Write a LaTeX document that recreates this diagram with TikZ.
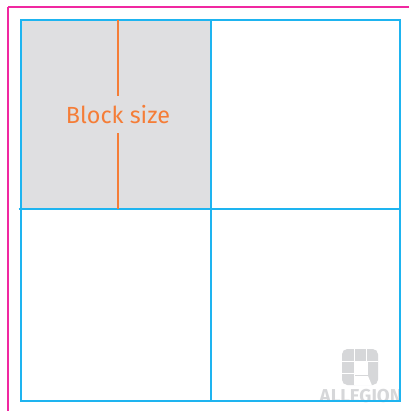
\documentclass[tikz,border=0pt]{standalone}
\usepackage{fontspec}
\setmainfont{Fira Sans}
\definecolor{gridblue}{RGB}{30,180,240}
\definecolor{framepink}{RGB}{240,40,160}
\definecolor{blockorange}{RGB}{245,125,55}
\definecolor{blockgray}{RGB}{223,223,225}
\definecolor{markgray}{RGB}{214,215,217}
\tikzset{gridline/.style={draw=gridblue,line width=2*0.75pt},
	sizeline/.style={draw=blockorange,line width=2*0.75pt},
	frameline/.style={draw=framepink,line width=2*0.75pt}}
\begin{document}
\begin{tikzpicture}[x=0.75pt,y=-0.75pt]
	\useasboundingbox (0,0) rectangle (409,411);
	\fill[white] (0,0) rectangle (409,411);
	\coordinate (topmid) at (118,20);
	\coordinate (botmid) at (118,209);
	\fill[blockgray] (21,20) rectangle (210.5,209);
	% pink frame runs off the page
	\draw[frameline] (8,6.5) -- (409,6.5);
	\draw[frameline] (8,6.5) -- (8,411);
	% watermark
	\fill[markgray,rounded corners=4pt] (342,349) rectangle (378,385);
	\fill[white] (355,362) rectangle (368,375);
	\fill[white] (355,376) -- (368,376) -- (372,385.5) -- (355,385.5) -- cycle;
	\draw[white,line width=0.75pt] (354,349) -- (354,385);
	\draw[white,line width=0.75pt] (366,349) -- (366,362);
	\draw[white,line width=0.75pt] (342,361) -- (378,361);
	\draw[white,line width=0.75pt] (342,373.5) -- (355,373.5);
	\node[text=markgray,font=\bfseries\fontsize{14}{15}\selectfont,inner sep=0pt] (allegion) at (361,396) {ALLEGION};
	\draw[gridline] (21,20) rectangle (400,401);
	\draw[gridline] (210.5,20) -- (210.5,401);
	\draw[gridline] (18.5,209) -- (400,209);
	\node[text=blockorange,font=\fontsize{17.5}{19}\selectfont,inner sep=0pt,minimum height=37*0.75pt] (blocksize) at (118,114.5) {Block size};
	\draw[sizeline] (topmid) -- (blocksize.north -| topmid);
	\draw[sizeline] (blocksize.south -| botmid) -- (botmid);
\end{tikzpicture}
\end{document}
